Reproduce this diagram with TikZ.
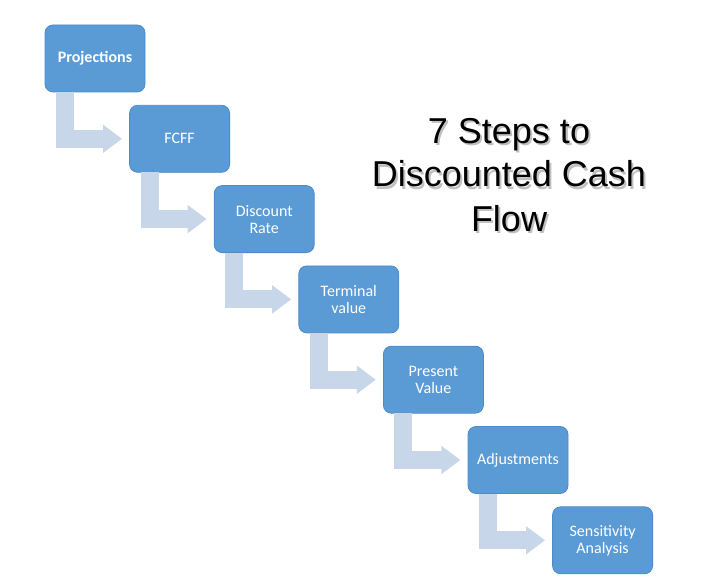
\documentclass[tikz,border=0pt]{standalone}
\usepackage{fontspec}
\setmainfont{Liberation Sans}
\newfontfamily\calibri{Carlito}
\usetikzlibrary{arrows.meta}
\definecolor{boxblue}{HTML}{5B9BD5}
\definecolor{boxedge}{HTML}{4C8BC8}
\definecolor{arrowblue}{HTML}{C8D6EA}
\tikzset{
  stepbox/.style={draw=boxedge, line width=0.8pt, fill=boxblue, rounded corners=8pt,
    minimum width=100pt, minimum height=67pt, outer sep=0pt, inner sep=2pt,
    text=white, align=center, font=\calibri\fontsize{16}{17}\selectfont},
  flowarrow/.style={draw=arrowblue, line width=18pt, line join=miter,
    -{Triangle[width=27pt,length=19pt]}},
  titletext/.style={align=center, font=\fontsize{36}{44}\selectfont, anchor=base, inner sep=0pt}
}
\begin{document}
\begin{tikzpicture}[x=1pt,y=-1pt]
\useasboundingbox[fill=white] (0,0) rectangle (720,588);
% title with soft shadow
\node[titletext, text=black!35, opacity=0.7] (tshadow) at (511,233.5) {7 Steps to\\Discounted Cash\\Flow};
\node[titletext, text=black] (title) at (509,231) {7 Steps to\\Discounted Cash\\Flow};
% steps
\node[stepbox] (s1) at (95,58.5) {\bfseries Projections};
\node[stepbox] (s2) at (179.6,138.8) {FCFF};
\node[stepbox] (s3) at (264.2,219.1) {Discount\\Rate};
\node[stepbox] (s4) at (348.8,299.4) {Terminal\\value};
\node[stepbox] (s5) at (433.4,379.7) {Present\\Value};
\node[stepbox] (s6) at (518,460) {Adjustments};
\node[stepbox] (s7) at (602.6,540.3) {Sensitivity\\Analysis};
% connectors
\foreach \a/\b in {s1/s2,s2/s3,s3/s4,s4/s5,s5/s6,s6/s7}{
  \draw[flowarrow] ([xshift=20pt]\a.south west) |- ([xshift=-7.6pt]\b.west);
}
\end{tikzpicture}
\end{document}
